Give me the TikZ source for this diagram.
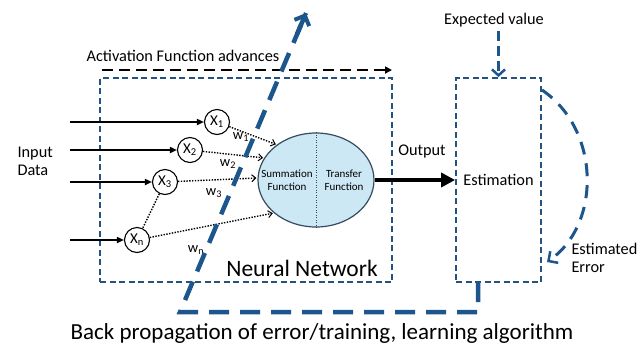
\documentclass[tikz,border=0pt]{standalone}
\usepackage{fontspec}
\setmainfont{Carlito}
\usetikzlibrary{arrows.meta,shapes.geometric,calc}
\definecolor{bpblue}{RGB}{28,86,140}
\definecolor{boxblue}{RGB}{38,82,128}
\definecolor{cellfill}{RGB}{205,232,245}
\definecolor{celledge}{RGB}{55,75,95}
\begin{document}
\begin{tikzpicture}[x=1pt,y=-1pt,
  boxdash/.style={draw=boxblue,line width=1.8pt,dash pattern=on 6pt off 3.5pt},
  xnode/.style={circle,draw,line width=1.1pt,fill=white,minimum size=25pt,inner sep=0pt,font=\fontsize{15}{15}\selectfont},
  inarrow/.style={line width=1.6pt,-{Triangle[length=7pt,width=6pt]}},
  warrow/.style={line width=1.4pt,dash pattern=on 1.4pt off 1.4pt,-{Straight Barb[length=4pt,width=7pt,line width=1pt]},shorten >=1pt},
  wlabel/.style={font=\fontsize{14.5}{14.5}\selectfont},
  lbl/.style={font=\fontsize{16.3}{18}\selectfont},
  bigdash/.style={draw=bpblue,line width=4.5pt,dash pattern=on 20pt off 11pt},
]
\useasboundingbox (0,0) rectangle (644,349);
\fill[white] (0,0) rectangle (644,349);

% boxes
\node[boxdash,minimum width=292pt,minimum height=204pt,inner sep=0pt] (nn) at (246,180) {};
\node[boxdash,minimum width=85pt,minimum height=204pt,inner sep=0pt,font=\fontsize{16.3}{16.3}\selectfont] (est) at (498.5,180) {Estimation};
\node[font=\fontsize{23.5}{23.5}\selectfont] (nnlabel) at (302,268) {Neural Network};

% ellipse
\node[ellipse,draw=celledge,line width=1.2pt,fill=cellfill,minimum width=116pt,minimum height=94pt,inner sep=0pt] (sum) at (316,180) {};
\draw[line width=1pt,dash pattern=on 1pt off 1.5pt,draw=celledge] (sum.north) -- (sum.south);
\node[align=center,font=\fontsize{11}{13}\selectfont] (sumtxt) at (287,180) {Summation\\Function};
\node[align=center,font=\fontsize{11}{13}\selectfont] (trtxt) at (344,180) {Transfer\\Function};

% inputs
\node[xnode] (x1) at (217,122) {X\textsubscript{1}};
\node[xnode] (x2) at (190,150) {X\textsubscript{2}};
\node[xnode] (x3) at (165,182) {X\textsubscript{3}};
\node[xnode] (xn) at (137,240) {X\textsubscript{n}};
\coordinate (i1) at (70,122);
\coordinate (i2) at (70,150);
\coordinate (i3) at (70,182);
\coordinate (in) at (70,240);
\draw[inarrow] (i1) -- (x1);
\draw[inarrow] (i2) -- (x2);
\draw[inarrow] (i3) -- (x3);
\draw[inarrow] (in) -- (xn);
\node[lbl,align=left,anchor=west] (input) at (14,161) {Input\\Data};

\draw[warrow] (x1) -- (sum.138);
\draw[warrow] (x2) -- (sum.157);
\draw[warrow] (x3) -- (sum.178);
\draw[warrow] (xn) -- (sum.218);
\draw[line width=1.4pt,dash pattern=on 1.4pt off 1.4pt] (x3) -- (xn);

\node[wlabel] (w1) at (241,137) {w\textsubscript{1}};
\node[wlabel] (w2) at (228,164) {w\textsubscript{2}};
\node[wlabel] (w3) at (214,193) {w\textsubscript{3}};
\node[wlabel] (wn) at (196,250) {w\textsubscript{n}};

% output
\draw[line width=4pt,-{Triangle[length=14pt,width=14pt]}] (sum.east) -- (est.west);
\node[lbl] (out) at (422,152) {Output};

% expected value
\node[lbl] (ev) at (494,20) {Expected value};
\draw[draw=bpblue,line width=2.8pt,dash pattern=on 10pt off 5pt,-{Straight Barb[length=6pt,width=13pt,line width=2.5pt]}] (ev.south -| est.north) -- (est.north);

% estimated error
\coordinate (ee0) at (542,90);
\coordinate (ee1) at (547,262);
\draw[draw=bpblue,line width=3pt,dash pattern=on 13pt off 9pt,-{Straight Barb[length=7pt,width=14pt,line width=2.5pt]}] (ee0) .. controls (601,130) and (601,225) .. (ee1);
\node[lbl,align=left,anchor=north west] (eetxt) at (568,240) {Estimated\\Error};

% activation
\node[lbl] (act) at (183,56) {Activation Function advances};
\coordinate (a0) at (102,70);
\coordinate (a1) at (392,70);
\draw[line width=2.4pt,dash pattern=on 11pt off 6pt,-{Triangle[length=7pt,width=7pt]}] (a0) -- (a1);

% back propagation
\coordinate (bp0) at (478,282);
\coordinate (bp1) at (478,312);
\coordinate (bp2) at (180,312);
\coordinate (bp3) at (306,13);
\draw[bigdash] (bp0) -- (bp1) -- (bp2) -- (bp3);
\draw[draw=bpblue,line width=4.5pt,-{Straight Barb[length=8pt,width=16pt,line width=4pt]}] ($(bp2)!0.93!(bp3)$) -- (bp3);
\node[font=\fontsize{23}{23}\selectfont] (cap) at (322,333) {Back propagation of error/training, learning algorithm};
\end{tikzpicture}
\end{document}
